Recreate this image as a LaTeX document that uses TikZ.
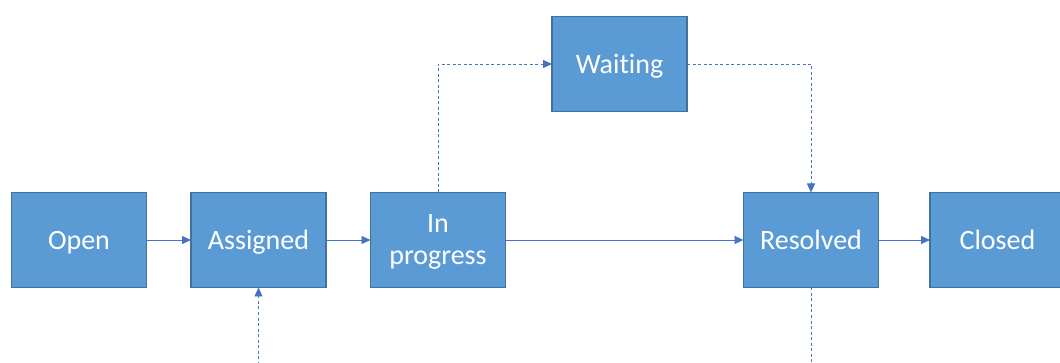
\documentclass[tikz,border=0pt]{standalone}
\usepackage{fontspec}
\setmainfont{Carlito}[Ligatures=CommonOff]
\usetikzlibrary{arrows.meta}
\definecolor{boxfill}{HTML}{5B9BD5}
\definecolor{boxedge}{HTML}{41719C}
\definecolor{flow}{HTML}{4472C4}
\begin{document}
\begin{tikzpicture}[x=1pt,y=-1pt,
  state/.style={draw=boxedge,fill=boxfill,line width=1.6pt,
    minimum width=135pt,minimum height=95pt,inner sep=0pt,outer sep=0pt,
    text=white,align=center,font=\fontsize{28}{32}\selectfont,
    text depth=0pt},
  flowline/.style={draw=flow,line width=0.9pt,
    -{Triangle[length=9pt,width=8pt]}},
  sideline/.style={flowline,dash pattern=on 3pt off 2.5pt}]
\useasboundingbox (0,0) rectangle (1060,363);
\begin{scope}
\clip (0,0) rectangle (1060,363);
\node[state] (open)     at (79,240)    {Open};
\node[state] (assigned) at (258.5,240) {Assigned};
\node[state] (inprog)   at (438,240)   {In\\progress};
\node[state] (waiting)  at (619.5,64)  {Waiting};
\node[state] (resolved) at (811,240)   {Resolved};
\node[state] (closed)   at (997.5,240) {Closed};
\coordinate (reopen) at (258.5,370);
\coordinate (onward) at (811,370);

\draw[flowline] (open) -- (assigned);
\draw[flowline] (assigned) -- (inprog);
\draw[flowline] (inprog) -- (resolved);
\draw[flowline] (resolved) -- (closed);
\draw[sideline] (inprog.north) |- (waiting.west);
\draw[sideline] (waiting.east) -| (resolved.north);
\draw[sideline] (reopen) -- (assigned.south);
\draw[sideline,-] (resolved.south) -- (onward);
\end{scope}
\end{tikzpicture}
\end{document}
